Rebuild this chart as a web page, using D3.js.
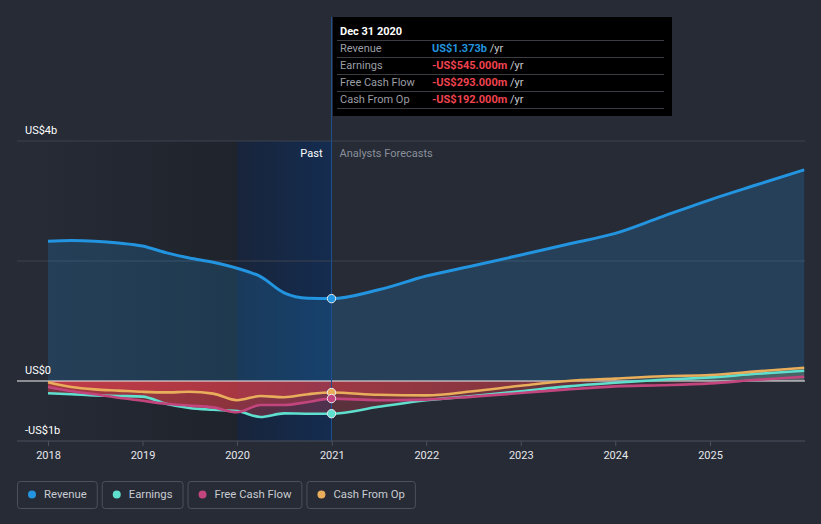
<!DOCTYPE html>
<html><head><meta charset="utf-8">
<script src="https://cdn.jsdelivr.net/npm/d3@7"></script>
<style>
html,body{margin:0;padding:0;background:#262b36;}
svg{display:block;font-family:Roboto,"Open Sans",sans-serif;}
</style></head>
<body><svg id="c" width="821" height="524"></svg>
<script>
// ---- data (US$ billions) ----
const pastDates = ["2018-01-01","2018-04-01","2018-07-01","2018-10-01","2019-01-01","2019-04-01","2019-07-01","2019-10-01","2020-01-01","2020-04-01","2020-07-01","2020-10-01","2020-12-31"];
const futureDates = ["2021-07-01","2022-01-01","2022-07-01","2023-01-01","2023-07-01","2024-01-01","2024-07-01","2025-01-01","2025-07-01","2025-12-31"];
const revenuePast  = [2.33,2.34,2.33,2.30,2.25,2.14,2.05,1.98,1.88,1.74,1.47,1.38,1.373];
const revenueFut   = [1.52,1.75,1.92,2.10,2.28,2.46,2.74,3.02,3.27,3.52];
const earningsPast = [-0.205,-0.22,-0.24,-0.25,-0.26,-0.38,-0.45,-0.48,-0.50,-0.60,-0.54,-0.545,-0.545];
const earningsFut  = [-0.43,-0.32,-0.25,-0.17,-0.09,-0.03,0.02,0.06,0.12,0.17];
const fcfPast      = [-0.10,-0.17,-0.22,-0.28,-0.33,-0.38,-0.41,-0.44,-0.52,-0.40,-0.40,-0.35,-0.293];
const fcfFut       = [-0.32,-0.31,-0.26,-0.20,-0.14,-0.09,-0.07,-0.04,0.02,0.07];
const cfoPast      = [-0.02,-0.10,-0.14,-0.16,-0.18,-0.19,-0.18,-0.21,-0.32,-0.25,-0.27,-0.22,-0.192];
const cfoFut       = [-0.23,-0.24,-0.17,-0.08,0.00,0.04,0.08,0.10,0.16,0.22];
const yearTicks = [2018,2019,2020,2021,2022,2023,2024,2025];
const yTickVals = [-1,0,4];
const yTickLabels = ["-US$1b","US$0","US$4b"];
const seriesNames = ["Revenue","Earnings","Free Cash Flow","Cash From Op"];
const seriesColors = ["#2394df","#5fe0cf","#c2457e","#e9ae5b"];
const tipTitle = "Dec 31 2020";
const tipValues = ["US$1.373b","-US$545.000m","-US$293.000m","-US$192.000m"];

const parse = d3.timeParse("%Y-%m-%d");
const dates = pastDates.concat(futureDates).map(parse);
const seriesVals = [revenuePast.concat(revenueFut), earningsPast.concat(earningsFut), fcfPast.concat(fcfFut), cfoPast.concat(cfoFut)];
const series = seriesNames.map((n,i)=>({name:n,color:seriesColors[i],values:dates.map((d,j)=>({d:d,v:seriesVals[i][j]}))}));

const svg = d3.select("#c");
const x = d3.scaleTime().domain([parse("2018-01-01"),parse("2025-01-01")]).range([48,710]);
const y = d3.scaleLinear().domain([-1,4]).range([441,141]);
const left=17, right=805;
const nowD = parse("2020-12-31"), bandD = parse("2020-01-01");
const x0 = x(parse("2018-01-01")), xNow = x(nowD), xBand = x(bandD), xEnd = x(dates[dates.length-1]);

const defs = svg.append("defs");
const gPast = defs.append("linearGradient").attr("id","gPast").attr("x1","0").attr("x2","1").attr("y1","0").attr("y2","0");
gPast.append("stop").attr("offset","0").attr("stop-color","#252a35");
gPast.append("stop").attr("offset","1").attr("stop-color","#1f232b");
const gBand = defs.append("linearGradient").attr("id","gBand").attr("x1","0").attr("x2","1").attr("y1","0").attr("y2","0");
gBand.append("stop").attr("offset","0").attr("stop-color","#18243a");
gBand.append("stop").attr("offset","1").attr("stop-color","#142c50");
const gRed = defs.append("linearGradient").attr("id","gRed").attr("gradientUnits","userSpaceOnUse").attr("x1",x0).attr("x2",xEnd).attr("y1",0).attr("y2",0);
gRed.append("stop").attr("offset","0").attr("stop-color","#e5404b").attr("stop-opacity",0.42);
gRed.append("stop").attr("offset","0.37").attr("stop-color","#e5404b").attr("stop-opacity",0.28);
gRed.append("stop").attr("offset","1").attr("stop-color","#e5404b").attr("stop-opacity",0.08);
defs.append("clipPath").attr("id","clipPos").append("rect").attr("x",0).attr("y",0).attr("width",821).attr("height",y(0));
defs.append("clipPath").attr("id","clipNeg").append("rect").attr("x",0).attr("y",y(0)).attr("width",821).attr("height",524-y(0));

// backgrounds
svg.append("rect").attr("x",x0).attr("y",y(4)).attr("width",xBand-x0).attr("height",y(-1)-y(4)).attr("fill","url(#gPast)");
svg.append("rect").attr("x",xBand).attr("y",y(4)).attr("width",xNow-xBand).attr("height",y(-1)-y(4)).attr("fill","url(#gBand)");

// gridlines
[4,2].forEach(v=>svg.append("line").attr("x1",left).attr("x2",right).attr("y1",y(v)).attr("y2",y(v)).attr("stroke","#3d4350").attr("stroke-width",1));

const curve = d3.curveMonotoneX;
// areas
const area = d3.area().x(p=>x(p.d)).y0(y(0)).y1(p=>y(p.v)).curve(curve);
svg.append("path").datum(series[0].values).attr("d",area).attr("fill","#2394df").attr("fill-opacity",0.2);
series.slice(1).forEach(s=>{
  svg.append("path").datum(s.values).attr("d",area).attr("fill","url(#gRed)").attr("clip-path","url(#clipNeg)");
  svg.append("path").datum(s.values).attr("d",area).attr("fill",s.color).attr("fill-opacity",0.15).attr("clip-path","url(#clipPos)");
});

// zero line
svg.append("line").attr("x1",left).attr("x2",right).attr("y1",y(0)).attr("y2",y(0)).attr("stroke","#f2f2f2").attr("stroke-width",1.2);

// lines
const line = d3.line().x(p=>x(p.d)).y(p=>y(p.v)).curve(curve);
[1,2,3,0].forEach(i=>{
  svg.append("path").datum(series[i].values).attr("d",line).attr("fill","none").attr("stroke",series[i].color).attr("stroke-width",i===0?3:2.6).attr("stroke-linejoin","round");
});

// now line
svg.append("line").attr("x1",xNow).attr("x2",xNow).attr("y1",17).attr("y2",y(-1)).attr("stroke","#1f4f8f").attr("stroke-width",1);

// dots
const nowIdx = pastDates.length-1;
[3,2,1,0].forEach(i=>{
  svg.append("circle").attr("cx",xNow).attr("cy",y(series[i].values[nowIdx].v)).attr("r",4.2).attr("fill",series[i].color).attr("stroke","#e8ecf0").attr("stroke-width",1);
});

// y labels
yTickVals.forEach((v,i)=>svg.append("text").attr("x",25).attr("y",y(v)-7).attr("fill","#ffffff").attr("font-size",11).text(yTickLabels[i]));

// past/forecast labels
svg.append("text").attr("x",xNow-9).attr("y",157).attr("text-anchor","end").attr("fill","#ffffff").attr("font-size",11).text("Past");
svg.append("text").attr("x",xNow+8).attr("y",157).attr("fill","#8a8f99").attr("font-size",11).text("Analysts Forecasts");

// x axis
const xa = svg.append("g").attr("transform",`translate(0,${y(-1)})`);
xa.append("line").attr("x1",left).attr("x2",right).attr("stroke","#4a505c").attr("stroke-width",1.2);
const xAxis = d3.axisBottom(x).tickValues(yearTicks.map(yy=>new Date(yy,0,1))).tickFormat(d3.timeFormat("%Y")).tickSize(5).tickPadding(5);
const ga = svg.append("g").attr("transform",`translate(0,${y(-1)})`).call(xAxis);
ga.select(".domain").remove();
ga.selectAll(".tick line").attr("stroke","#4a505c");
ga.selectAll(".tick text").attr("fill","#e6e7ea").attr("font-size",11).attr("font-family","Roboto,sans-serif");

// tooltip
const tip = svg.append("g");
tip.append("rect").attr("x",333).attr("y",17).attr("width",339).attr("height",99).attr("fill","#000000");
tip.append("text").attr("x",340).attr("y",35).attr("fill","#ffffff").attr("font-size",11).attr("font-weight","bold").text(tipTitle);
[40,57,74,91,108].forEach(yy=>tip.append("line").attr("x1",337).attr("x2",664).attr("y1",yy+0.5).attr("y2",yy+0.5).attr("stroke","#3b3d42").attr("stroke-width",1));
seriesNames.forEach((n,i)=>{
  const by = 52+17*i;
  tip.append("text").attr("x",340).attr("y",by).attr("fill","#9b9ea5").attr("font-size",11).text(n);
  const t = tip.append("text").attr("x",432).attr("y",by).attr("font-size",11);
  t.append("tspan").attr("fill",i===0?"#2394df":"#f0434f").attr("font-weight","bold").text(tipValues[i]);
  t.append("tspan").attr("fill","#c8cace").text(" /yr");
});

// legend
let lx = 17;
seriesNames.forEach((n,i)=>{
  const g = svg.append("g");
  const txt = g.append("text").attr("x",lx+27).attr("y",498).attr("fill","#c9ccd1").attr("font-size",11.3).text(n);
  const w = txt.node().getComputedTextLength();
  const bw = w+27+10;
  g.insert("rect","text").attr("x",lx+0.5).attr("y",481.5).attr("width",bw).attr("height",27).attr("rx",3).attr("fill","none").attr("stroke","#4b515d");
  g.append("circle").attr("cx",lx+15).attr("cy",494.5).attr("r",4).attr("fill",seriesColors[i]);
  lx += bw+5;
});
</script></body></html>
